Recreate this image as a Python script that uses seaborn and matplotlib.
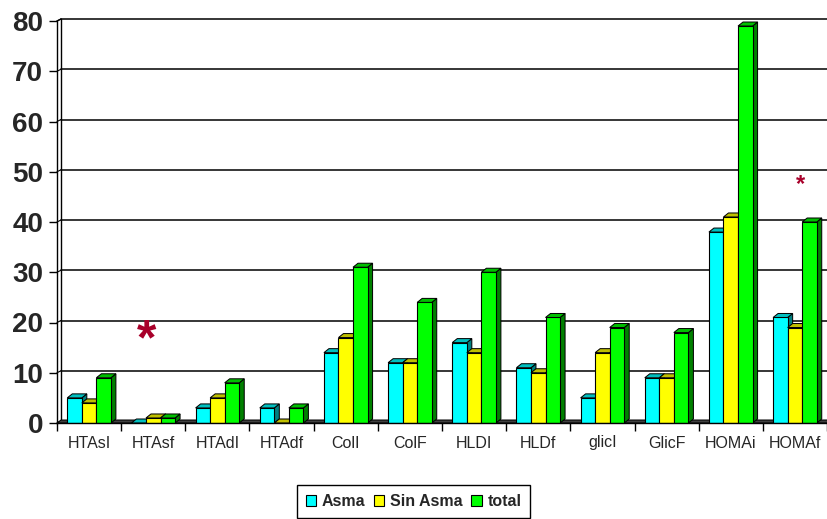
import numpy as np
import pandas as pd
import seaborn as sns
import matplotlib.pyplot as plt
import matplotlib.colors as mcolors
from matplotlib.patches import Polygon, Patch
from matplotlib.lines import Line2D
from matplotlib.transforms import IdentityTransform

# ---- data ----
categories = ["HTAsI", "HTAsf", "HTAdI", "HTAdf", "ColI", "ColF",
              "HLDI", "HLDf", "glicI", "GlicF", "HOMAi", "HOMAf"]
asma = [5, 0, 3, 3, 14, 12, 16, 11, 5, 9, 38, 21]
sin_asma = [4, 1, 5, 0, 17, 12, 14, 10, 14, 9, 41, 19]
total = [9, 1, 8, 3, 31, 24, 30, 21, 19, 18, 79, 40]
series_names = ["Asma", "Sin Asma", "total"]
series_colors = ["#00FFFF", "#FFFF00", "#00FF00"]
y_ticks = [0, 10, 20, 30, 40, 50, 60, 70, 80]

sns.set_style("white")
plt.rcParams["font.family"] = ["Liberation Sans", "DejaVu Sans"]

df = pd.DataFrame({"categoria": categories, "Asma": asma,
                   "Sin Asma": sin_asma, "total": total})
long = df.melt(id_vars="categoria", var_name="grupo", value_name="valor")

W, H = 827, 519
fig = plt.figure(figsize=(W / 100, H / 100), dpi=100)
ax = fig.add_axes([57 / W, (H - 423) / H, 770 / W, 402 / H])

sns.barplot(data=long, x="categoria", y="valor", hue="grupo",
            order=categories, hue_order=series_names, palette=series_colors,
            saturation=1, width=0.68, gap=0, errorbar=None,
            edgecolor="black", linewidth=0.8, legend=False, ax=ax)

ax.set_xlim(-0.5, len(categories) - 0.5)
ax.set_ylim(y_ticks[0], y_ticks[-1])
ax.set_xlabel("")
ax.set_ylabel("")

to_px = ax.transData.transform
px_lw = 0.72  # one pixel in points

# depth of bars and of the back wall (pixels)
DX, DY = 5, 4
WX, WY = 4, 2


def shade(color, f):
    r, g, b = mcolors.to_rgb(color)
    return (r * f, g * f, b * f)


def add_px_poly(pts, fc, z, ec="black"):
    ax.add_patch(Polygon(pts, closed=True, transform=IdentityTransform(),
                         facecolor=fc, edgecolor=ec, linewidth=px_lw,
                         zorder=z, clip_on=False))


def add_px_line(xs, ys, z, lw=1.0, color="black"):
    ax.add_line(Line2D(xs, ys, transform=IdentityTransform(), color=color,
                       linewidth=lw, zorder=z, clip_on=False))


# back wall grid lines
(xl, _), (xr, _) = to_px([(-0.5, 0), (len(categories) - 0.5, 0)])
for v in y_ticks[1:]:
    _, yv = to_px((0, v))
    add_px_line([xl + WX, xr], [yv + WY, yv + WY], z=0.5, lw=1.1)

# left wall: inner edge and top bevel
_, y0 = to_px((0, y_ticks[0]))
_, ytop = to_px((0, y_ticks[-1]))
add_px_line([xl + WX, xl + WX], [y0 + WY, ytop + WY], z=0.6, lw=1.0)
add_px_line([xl, xl + WX], [ytop, ytop + WY], z=0.6, lw=1.0)
for v in y_ticks:
    _, yv = to_px((0, v))
    add_px_line([xl, xl + WX], [yv, yv + WY], z=0.6, lw=0.8)

# floor
add_px_poly([(xl, y0), (xr, y0), (xr + WX, y0 + WY + 1), (xl + WX, y0 + WY + 1)],
            fc="#404040", z=1.0)

# 3-D faces for every bar, painted left to right
for cont in ax.containers:
    for bar in cont:
        x0, b0 = bar.get_x(), bar.get_y()
        w, h = bar.get_width(), bar.get_height()
        (p0x, p0y), (p1x, p1y) = to_px([(x0, b0), (x0 + w, b0 + h)])
        z = 2 + (x0 + w / 2) * 0.01
        bar.set_zorder(z + 0.001)
        base = bar.get_facecolor()
        add_px_poly([(p1x, p0y), (p1x + DX, p0y + DY),
                     (p1x + DX, p1y + DY), (p1x, p1y)], shade(base, 0.5), z)
        add_px_poly([(p0x, p1y), (p1x, p1y),
                     (p1x + DX, p1y + DY), (p0x + DX, p1y + DY)],
                    shade(base, 0.75), z + 0.002)

# axes, ticks and labels
for side in ("top", "right"):
    ax.spines[side].set_visible(False)
for side in ("left", "bottom"):
    ax.spines[side].set_color("black")
    ax.spines[side].set_linewidth(1.0)
    ax.spines[side].set_zorder(5)

ax.set_yticks(y_ticks)
ax.set_yticklabels([str(v) for v in y_ticks], fontsize=20, fontweight="bold")
ax.tick_params(axis="y", which="major", left=True, length=6, width=1,
               color="black", pad=4)

ax.set_xticks(np.arange(-0.5, len(categories), 1.0))
ax.set_xticklabels([""] * (len(categories) + 1))
ax.set_xticks(np.arange(len(categories)), categories, minor=True)
ax.tick_params(axis="x", which="major", bottom=True, length=6, width=1,
               color="black")
ax.tick_params(axis="x", which="minor", bottom=True, length=0, pad=9,
               labelsize=11.5)
ax.grid(False)

# significance marks
ax.text(0.89, 13.6, "*", ha="center", va="baseline", fontsize=36,
        fontweight="bold", color="#A8002A", zorder=6)
ax.text(11.09, 46.2, "*", ha="center", va="baseline", fontsize=17,
        fontweight="bold", color="#A8002A", zorder=6)

handles = [Patch(facecolor=c, edgecolor="black", linewidth=0.8)
           for c in series_colors]
leg = fig.legend(handles, series_names, loc="lower center",
                 bbox_to_anchor=(0.5, 1 / H), ncol=3, frameon=True,
                 fancybox=False, edgecolor="black", framealpha=1,
                 prop={"weight": "bold", "size": 11.5},
                 handlelength=0.65, handleheight=0.65, handletextpad=0.35,
                 columnspacing=0.55, borderpad=0.55, borderaxespad=0)
leg.get_frame().set_linewidth(1.0)

fig.savefig("out.png", dpi=100)
